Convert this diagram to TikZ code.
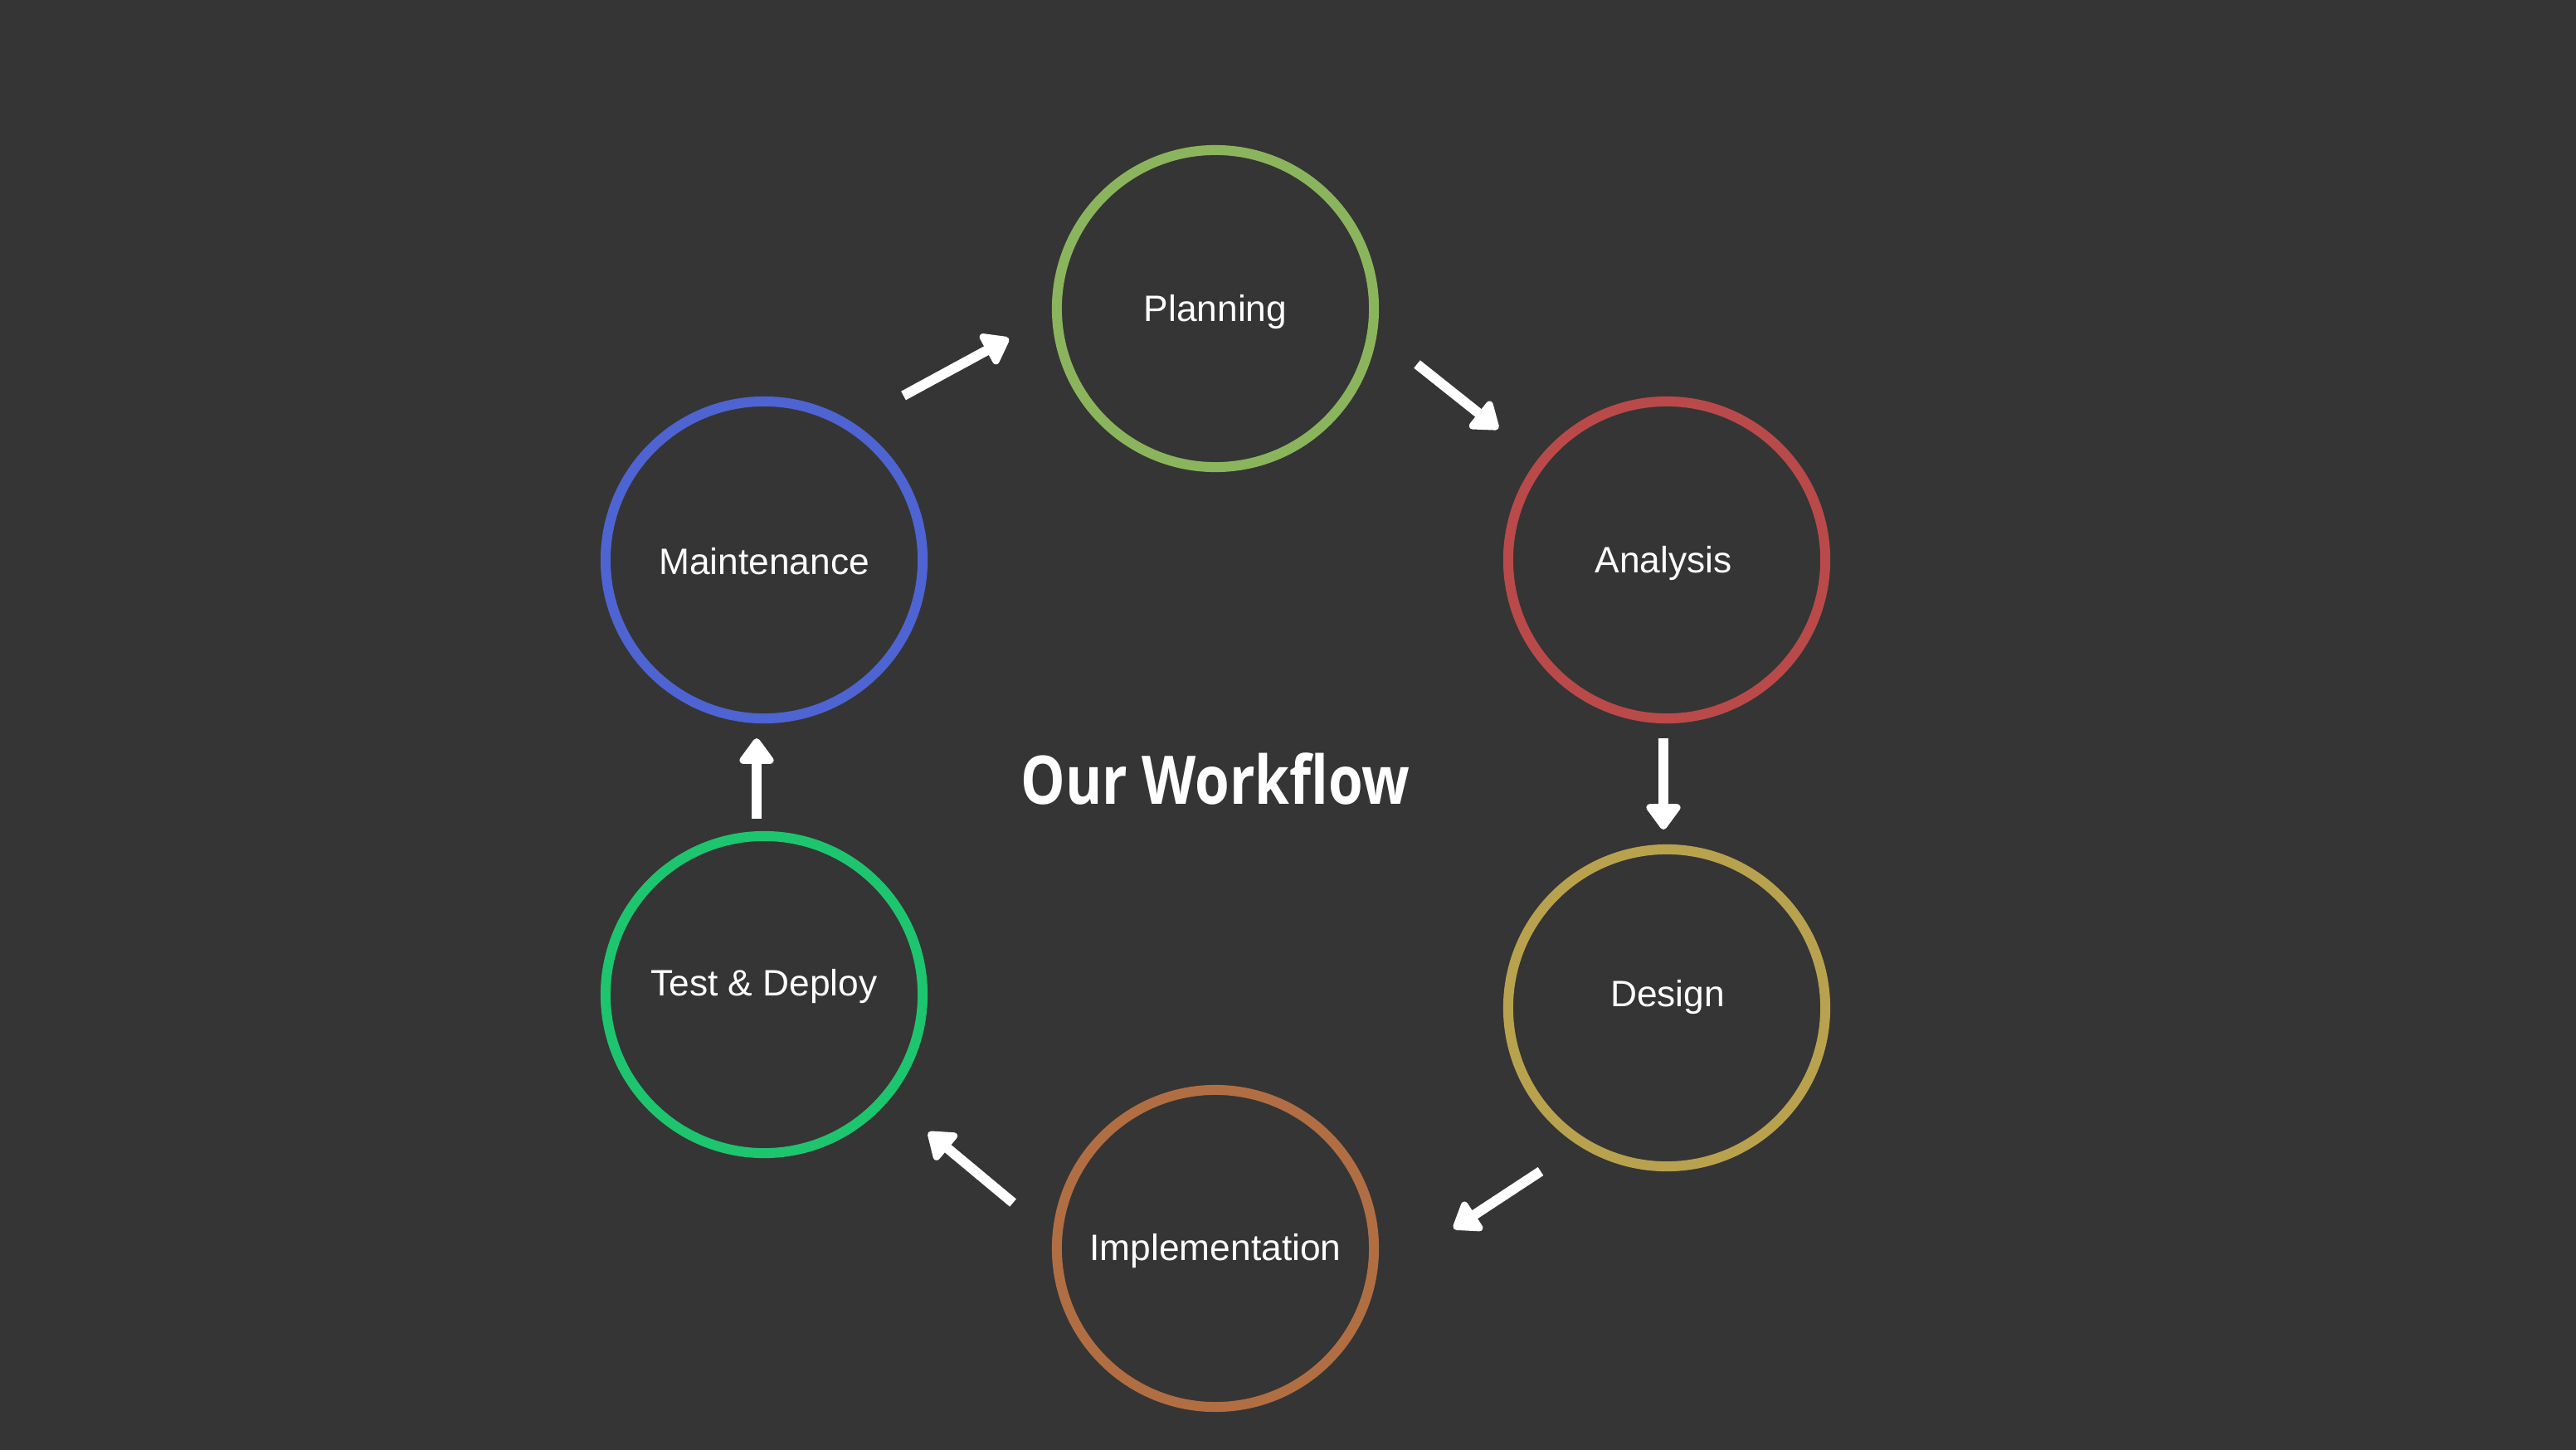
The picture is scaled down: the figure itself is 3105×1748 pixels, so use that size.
\documentclass[tikz,border=0pt]{standalone}
\usepackage{fontspec}
\setmainfont{Liberation Sans}
\newfontfamily\titlefont{Open Sans}
\usetikzlibrary{arrows.meta}
\definecolor{bg}{HTML}{353535}
\definecolor{cplan}{HTML}{8BB55C}
\definecolor{canal}{HTML}{BA4A4A}
\definecolor{cdes}{HTML}{B9A24E}
\definecolor{cimpl}{HTML}{B16E43}
\definecolor{ctest}{HTML}{1DC56F}
\definecolor{cmaint}{HTML}{4E64D2}
\begin{document}
\begin{tikzpicture}[x=0.01cm,y=-0.01cm,
  ring/.style={circle,draw=#1,line width=0.12cm,minimum size=3.82cm,inner sep=0pt},
  lbl/.style={text=white,font=\fontsize{12.6pt}{14pt}\selectfont},
  flow/.style={draw=white,line width=0.12cm,-{Triangle[length=0.34cm,width=0.47cm,round]}}]
\fill[bg] (0,0) rectangle (3105,1748);
\useasboundingbox (0,0) rectangle (3105,1748);
\node[ring=cplan] (plan) at (1465,372) {};
\node[ring=canal] (anal) at (2009,675) {};
\node[ring=cdes] (des) at (2009,1215) {};
\node[ring=cimpl] (impl) at (1465,1505) {};
\node[ring=ctest] (test) at (921,1199) {};
\node[ring=cmaint] (maint) at (921,675) {};
\node[lbl] (planT) at (1465,376) {Planning};
\node[lbl] (analT) at (2005,679) {Analysis};
\node[lbl] (desT) at (2010,1202) {Design};
\node[lbl] (implT) at (1465,1508) {Implementation};
\node[lbl] (testT) at (921,1189) {Test \& Deploy};
\node[lbl] (maintT) at (921,677) {Maintenance};
\node[text=white,xscale=0.834,font=\titlefont\bfseries\fontsize{23pt}{26pt}\selectfont] (title) at (1465,939) {Our Workflow};
\coordinate (a1s) at (1089,477); \coordinate (a1e) at (1216,408);
\coordinate (a2s) at (1708,439); \coordinate (a2e) at (1806,517);
\coordinate (a3s) at (2005,890); \coordinate (a3e) at (2005,1000);
\coordinate (a4s) at (1857,1412); \coordinate (a4e) at (1752,1481);
\coordinate (a5s) at (1221,1450); \coordinate (a5e) at (1119,1365);
\coordinate (a6s) at (912,987); \coordinate (a6e) at (912,890);
\draw[flow] (a1s) -- (a1e);
\draw[flow] (a2s) -- (a2e);
\draw[flow] (a3s) -- (a3e);
\draw[flow] (a4s) -- (a4e);
\draw[flow] (a5s) -- (a5e);
\draw[flow] (a6s) -- (a6e);
\end{tikzpicture}
\end{document}
